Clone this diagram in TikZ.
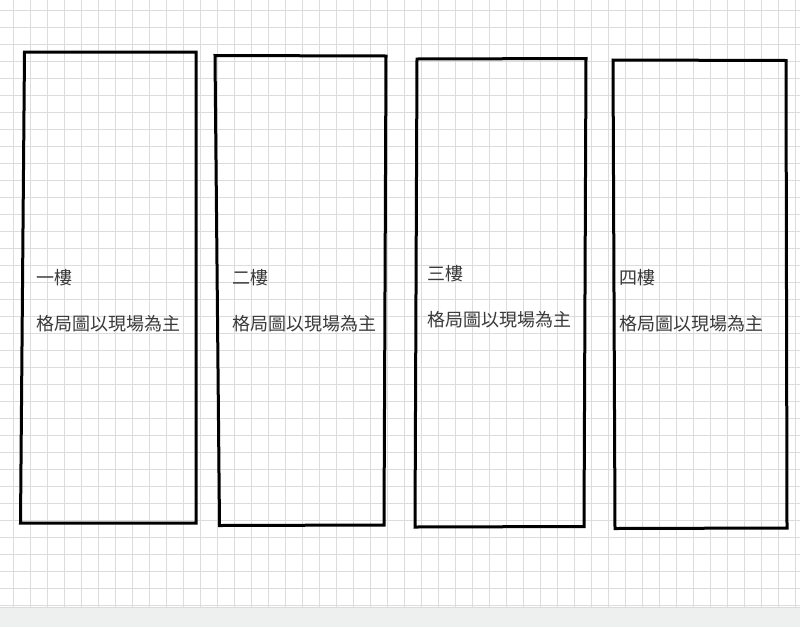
\documentclass[tikz,border=0pt]{standalone}
\usepackage{fontspec}
\newfontfamily\cjk{Noto Sans CJK TC}
\definecolor{gridc}{HTML}{DCDCDC}
\definecolor{stripc}{HTML}{EEF0F0}
\definecolor{txtc}{HTML}{3A3A3A}
\tikzset{
  floorbox/.style={draw=black, line width=3pt, line join=miter},
  floortxt/.style={anchor=base west, inner sep=0pt, text=txtc, font=\cjk\fontsize{18pt}{20pt}\selectfont},
}
\begin{document}
\begin{tikzpicture}[x=1pt,y=-1pt]
\useasboundingbox (0,0) rectangle (800,627);
\fill[white] (0,0) rectangle (800,627);
% grid
\foreach \k in {0,...,46} {
  \draw[gridc, line width=1pt] ({13+17*\k},0) -- ({13+17*\k},607);
}
\foreach \k in {0,...,35} {
  \draw[gridc, line width=1pt] (0,{10+17*\k}) -- (800,{10+17*\k});
}
% bottom strip
\fill[stripc] (0,607) rectangle (800,627);
\draw[gridc, line width=0.8pt] (0,607) -- (800,607);
% boxes
\coordinate (b1a) at (24.5,52);  \coordinate (b1b) at (196,52);
\coordinate (b1c) at (196,523);  \coordinate (b1d) at (20.5,523);
\coordinate (b2a) at (215,55.5); \coordinate (b2b) at (386,56);
\coordinate (b2c) at (384,525);  \coordinate (b2d) at (219.5,525.5);
\coordinate (b3a) at (417,59);   \coordinate (b3b) at (586,58.5);
\coordinate (b3c) at (584,526.5);\coordinate (b3d) at (415,527);
\coordinate (b4a) at (613,60);   \coordinate (b4b) at (786,60.5);
\coordinate (b4c) at (787,528);  \coordinate (b4d) at (615,528.5);
\draw[floorbox] (b1a) -- (b1b) -- (b1c) -- (b1d) -- cycle;
\draw[floorbox] (b2a) -- (b2b) -- (b2c) -- (b2d) -- cycle;
\draw[floorbox] (b3a) -- (b3b) -- (b3c) -- (b3d) -- cycle;
\draw[floorbox] (b4a) -- (b4b) -- (b4c) -- (b4d) -- cycle;
% texts
\node[floortxt] (t1a) at (36,284) {一樓};
\node[floortxt] (t1b) at (36,330) {格局圖以現場為主};
\node[floortxt] (t2a) at (232,284) {二樓};
\node[floortxt] (t2b) at (232,330) {格局圖以現場為主};
\node[floortxt] (t3a) at (427,280) {三樓};
\node[floortxt] (t3b) at (427,326) {格局圖以現場為主};
\node[floortxt] (t4a) at (619,284) {四樓};
\node[floortxt] (t4b) at (619,330) {格局圖以現場為主};
\end{tikzpicture}
\end{document}
